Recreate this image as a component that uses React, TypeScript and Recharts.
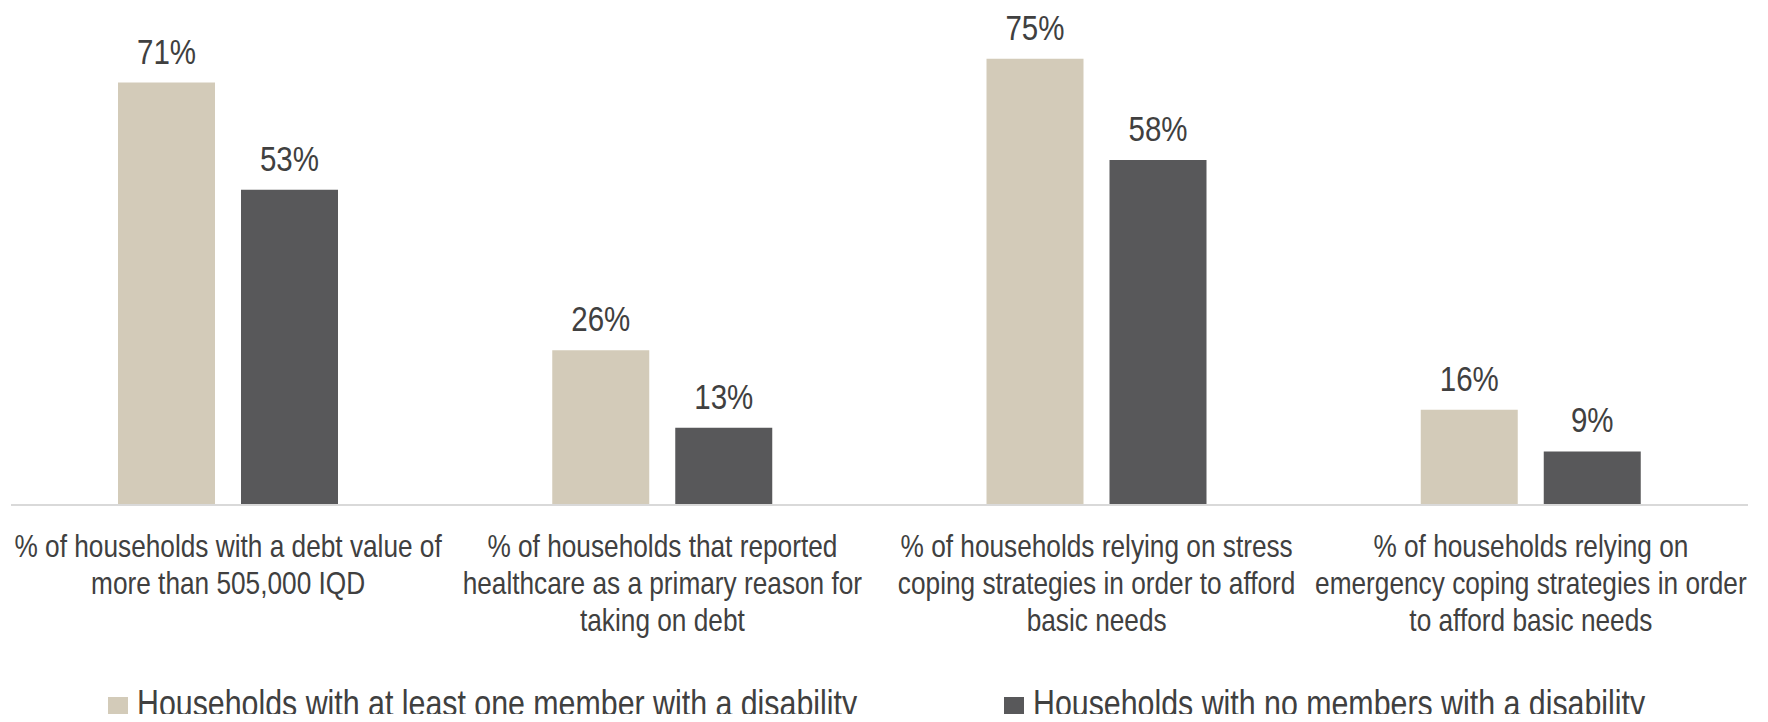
import { BarChart, Bar, XAxis, YAxis, LabelList, Legend } from "recharts";

const categories = [
  "% of households with a debt value of more than 505,000 IQD",
  "% of households that reported healthcare as a primary reason for taking on debt",
  "% of households relying on stress coping strategies in order to afford basic needs",
  "% of households relying on emergency coping strategies in order to afford basic needs",
];

// line breaks as they appear under the axis
const categoryLines = [
  ["% of households with a debt value of", "more than 505,000 IQD"],
  ["% of households that reported", "healthcare as a primary reason for", "taking on debt"],
  ["% of households relying on stress", "coping strategies in order to afford", "basic needs"],
  ["% of households relying on", "emergency coping strategies in order", "to afford basic needs"],
];

const withDisability = [71, 26, 75, 16];
const withoutDisability = [53, 13, 58, 9];

const seriesNames = [
  "Households with at least one member with a disability",
  "Households with no members with a disability",
];

const LIGHT = "#D3CBB9";
const DARK = "#58585A";
const TEXT = "#404040";
const FONT = "'Liberation Sans', Arial, sans-serif";
// no narrow face installed, so squeeze Arial-metric text horizontally
const NARROW = 0.82;

const data = categories.map((c, i) => ({
  name: c,
  a: withDisability[i],
  b: withoutDisability[i],
}));

const CategoryTick = (props: any) => {
  const { x, y, index } = props;
  const lines = categoryLines[index] || [];
  return (
    <g transform={`translate(${x},${y}) scale(${NARROW},1)`}>
      <text x={0} y={0} textAnchor="middle" fill={TEXT} fontSize={32} fontFamily={FONT}>
        {lines.map((l, i) => (
          <tspan key={i} x={0} dy={i === 0 ? 52 : 37}>
            {l}
          </tspan>
        ))}
      </text>
    </g>
  );
};

const ValueLabel = (props: any) => {
  const { x, y, width, value } = props;
  return (
    <g transform={`translate(${x + width / 2},${y - 19}) scale(${NARROW},1)`}>
      <text x={0} y={0} textAnchor="middle" fill={TEXT} fontSize={36} fontFamily={FONT}>
        {`${value}%`}
      </text>
    </g>
  );
};

const legendLeft = [100, 996];

const LegendContent = () => (
  <div
    style={{
      position: "relative",
      height: 32,
      fontFamily: FONT,
      fontSize: 37,
      color: TEXT,
      whiteSpace: "nowrap",
    }}
  >
    {seriesNames.map((n, i) => (
      <div
        key={n}
        style={{
          position: "absolute",
          left: legendLeft[i],
          top: 0,
          height: 32,
          display: "flex",
          alignItems: "flex-start",
        }}
      >
        <span
          style={{
            display: "inline-block",
            width: 20,
            height: 20,
            marginTop: 7,
            background: i === 0 ? LIGHT : DARK,
            marginRight: 9,
          }}
        />
        <span
          style={{
            display: "inline-block",
            lineHeight: "32px",
            position: "relative",
            top: -2,
            transform: `scaleX(${NARROW})`,
            transformOrigin: "left center",
          }}
        >
          {n}
        </span>
      </div>
    ))}
  </div>
);

export default function App() {
  return (
    <div style={{ width: 1752, height: 706 }}>
      <BarChart
        width={1752}
        height={714}
        data={data}
        margin={{ top: 21, right: 12, bottom: 0, left: 3 }}
        barCategoryGap={107}
        barGap={26}
      >
        <XAxis
          dataKey="name"
          tickLine={false}
          tickSize={0}
          tickMargin={0}
          height={185}
          interval={0}
          stroke="#D9D9D9"
          strokeWidth={2}
          tick={<CategoryTick />}
        />
        <YAxis hide domain={[0, 80]} />
        <Legend
          verticalAlign="bottom"
          height={32}
          wrapperStyle={{ left: 0, width: 1752 }}
          content={<LegendContent />}
        />
        <Bar dataKey="a" name={seriesNames[0]} fill={LIGHT} barSize={97} isAnimationActive={false}>
          <LabelList dataKey="a" content={<ValueLabel />} />
        </Bar>
        <Bar dataKey="b" name={seriesNames[1]} fill={DARK} barSize={97} isAnimationActive={false}>
          <LabelList dataKey="b" content={<ValueLabel />} />
        </Bar>
      </BarChart>
    </div>
  );
}
